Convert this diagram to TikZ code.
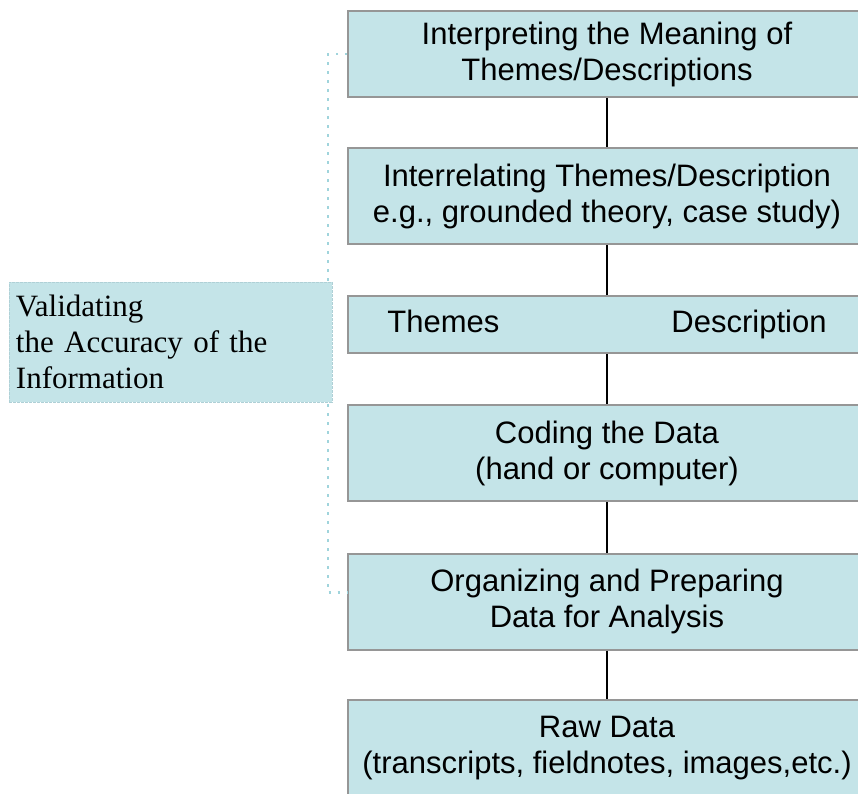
\documentclass[tikz,border=0pt]{standalone}
\usepackage{fontspec}
\setmainfont{Liberation Serif}
\setsansfont{Liberation Sans}
\definecolor{stagefill}{RGB}{196,228,232}
\definecolor{stageline}{RGB}{150,150,150}
\definecolor{dotline}{RGB}{160,212,220}
\definecolor{noteline}{RGB}{175,208,214}

\begin{document}
\begin{tikzpicture}[x=1pt, y=-1pt,
  stage/.style={draw=stageline, line width=2pt, fill=stagefill, minimum width=518pt,
    minimum height=96pt, inner sep=0pt, align=center, font=\sffamily\fontsize{31}{36}\selectfont},
  note/.style={draw=noteline, dashed, dash pattern=on 3pt off 1pt, line width=0.8pt, fill=stagefill,
    text width=309pt, minimum height=120pt, inner xsep=7pt, align=left, font=\rmfamily\fontsize{31}{36}\selectfont},
  link/.style={line width=2pt, black},
  bracket/.style={dotline, line width=2.5pt, dash pattern=on 2.5pt off 6.5pt}]
  \fill[white] (0,0) rectangle (858,793);
  \useasboundingbox (0,0) rectangle (858,793);
  \clip (0,0) rectangle (858,793);

  % analysis steps, top to bottom
  \node[stage, minimum height=86pt] (interp) at (607,54) {Interpreting the Meaning of\\Themes/Descriptions};
  \node[stage] (relate) at (607,196) {Interrelating Themes/Description\\e.g., grounded theory, case study)};
  \node[stage, minimum height=57pt] (themes) at (607,324.5) {Themes\hspace{172pt}Description};
  \node[stage] (coding) at (607,453) {Coding the Data\\(hand or computer)};
  \node[stage] (organize) at (607,601.5) {Organizing and Preparing\\Data for Analysis};
  \node[stage] (raw) at (607,748) {Raw Data\\(transcripts, fieldnotes, images,etc.)};

  \draw[link] (interp) -- (relate);
  \draw[link] (relate) -- (themes);
  \draw[link] (themes) -- (coding);
  \draw[link] (coding) -- (organize);
  \draw[link] (organize) -- (raw);

  % validation runs alongside all steps
  \draw[bracket] (interp.west) -- ++(-19,0) |- ([yshift=9pt]organize.west);
  \node[note] (valid) at (170.5,342) {Validating\\the Accuracy of the\\Information};
\end{tikzpicture}
\end{document}
